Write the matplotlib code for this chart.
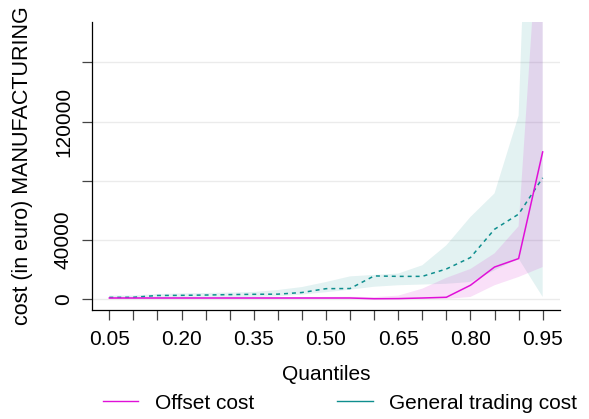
import matplotlib
matplotlib.use("Agg")
import matplotlib.pyplot as plt
from matplotlib.lines import Line2D

plt.rcParams['font.family'] = ['Liberation Sans', 'DejaVu Sans']

quantiles = [0.05, 0.10, 0.15, 0.20, 0.25, 0.30, 0.35, 0.40, 0.45, 0.50,
             0.55, 0.60, 0.65, 0.70, 0.75, 0.80, 0.85, 0.90, 0.95]

# General trading cost (teal, dashed) with band
general_mean = [1300, 1400, 2600, 2700, 2900, 3200, 3400, 3500, 4600, 7200,
                7300, 15800, 15500, 15500, 20500, 28200, 47300, 57500, 82000]
general_low = [400, 500, 800, 1000, 1200, 1400, 1600, 2000, 3200, 4800,
               6500, 8500, 9500, 10000, 10500, 11700, 19600, 27500, 1600]
general_high = [2500, 2600, 3600, 4000, 4300, 4600, 5000, 6300, 8300, 11700,
                15500, 16500, 17400, 23000, 36500, 55600, 71500, 124000, 570000]

# Offset cost (magenta, solid) with band
offset_mean = [900, 900, 900, 900, 900, 900, 900, 900, 900, 900,
               900, 400, 500, 900, 1400, 9500, 21800, 27500, 99500]
offset_low = [200, 200, 200, 200, 200, 200, 200, 200, 200, 200,
              200, 100, 100, 200, 300, 1600, 9500, 15100, 21800]
offset_high = [1500, 1500, 1500, 1500, 1500, 1500, 1500, 1500, 1500, 1600,
               1700, 1500, 2500, 7200, 14500, 20500, 31000, 49300, 296000]

xtick_vals = [0.05, 0.20, 0.35, 0.50, 0.65, 0.80, 0.95]
ytick_vals = [0, 40000, 80000, 120000, 160000]
ytick_labels = ["0", "40000", "", "120000", ""]

teal = "#0E8E8E"
magenta = "#E010D8"

fig = plt.figure(figsize=(5.89, 4.19), dpi=100)
ax = fig.add_axes([92/589, (419-310)/419, (560-92)/589, (310-22)/419])

for y in ytick_vals:
    ax.axhline(y, color="#EBEBEB", lw=1.0, zorder=0)

ax.fill_between(quantiles, general_low, general_high, color="#008B8B",
                alpha=0.11, lw=0, zorder=1)
ax.fill_between(quantiles, offset_low, offset_high, color="#DA30D0",
                alpha=0.15, lw=0, zorder=2)
ax.plot(quantiles, general_mean, color=teal, lw=1.1,
        linestyle=(0, (2.6, 2.6)), zorder=3)
ax.plot(quantiles, offset_mean, color=magenta, lw=1.1, zorder=4)

ax.set_xlim(0.05 - 0.036, 0.95 + 0.036)
ax.set_ylim(-7200, 187200)

ax.set_xticks(quantiles)
ax.set_xticklabels([f"{q:.2f}" if any(abs(q - v) < 1e-9 for v in xtick_vals) else "" for q in quantiles])
ax.set_yticks(ytick_vals)
ax.set_yticklabels(ytick_labels, rotation=90, va="center")

for s in ["top", "right"]:
    ax.spines[s].set_visible(False)
for s in ["left", "bottom"]:
    ax.spines[s].set_color("black")
    ax.spines[s].set_linewidth(0.9)

ax.tick_params(axis="both", direction="out", length=7.2, width=0.9,
               color="#444444", labelsize=15, labelcolor="black")
ax.tick_params(axis="x", pad=7.5)
ax.tick_params(axis="y", pad=6.5)

ax.set_xlabel("Quantiles", fontsize=15)
ax.xaxis.set_label_coords(0.5, (310 - 365) / 288)
ax.set_ylabel("cost (in euro) MANUFACTURING", fontsize=15.5)
ax.yaxis.set_label_coords((33 - 92) / 468, 0.5)

handles = [Line2D([0], [0], color=magenta, lw=1.0),
           Line2D([0], [0], color=teal, lw=1.0)]
fig.legend(handles, ["Offset cost", "General trading cost"], ncol=2,
           loc="center", bbox_to_anchor=(340/589, 1 - 403/419),
           frameon=False, fontsize=15, handlelength=1.7, handletextpad=0.8,
           columnspacing=4.0, borderpad=0, borderaxespad=0)

fig.savefig("out.png", dpi=100)
